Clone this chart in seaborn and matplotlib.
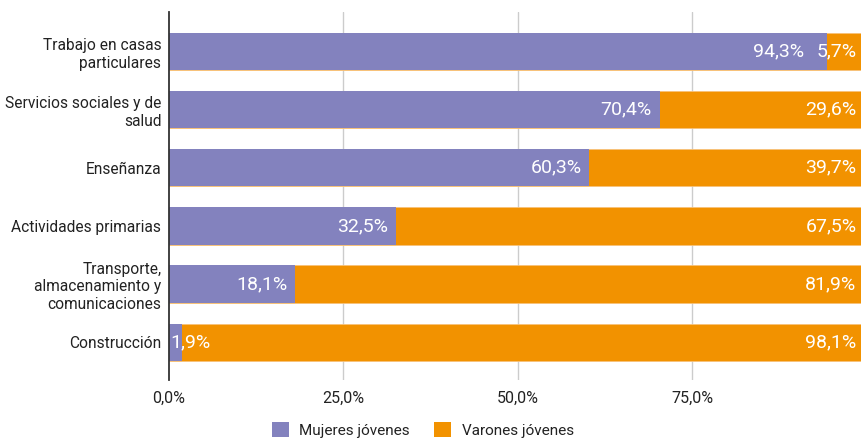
import matplotlib
matplotlib.use("Agg")
import matplotlib.pyplot as plt
import seaborn as sns
import pandas as pd
from matplotlib.patches import Patch

categories = ["Trabajo en casas\nparticulares", "Servicios sociales y de\nsalud", "Enseñanza",
              "Actividades primarias", "Transporte,\nalmacenamiento y\ncomunicaciones", "Construcción"]
mujeres = [94.3, 70.4, 60.3, 32.5, 18.1, 1.9]
varones = [5.7, 29.6, 39.7, 67.5, 81.9, 98.1]
xticks = [0, 25, 50, 75]
xticklabels = ["0,0%", "25,0%", "50,0%", "75,0%"]
series_names = ["Mujeres jóvenes", "Varones jóvenes"]

PURPLE = "#8382BE"
ORANGE = "#F29200"

sns.set_theme(style="white")
plt.rcParams["font.family"] = ["Roboto", "DejaVu Sans"]

W, H = 862, 438
fig = plt.figure(figsize=(W / 100, H / 100), dpi=100)
ax = fig.add_axes([169 / W, 1 - 380 / H, 1 - 169 / W, (380 - 12) / H])

df = pd.DataFrame({"cat": categories, "m": mujeres, "v": varones})
df["total"] = df["m"] + df["v"]

sns.barplot(data=df, x="total", y="cat", color=ORANGE, orient="h", width=0.64,
            saturation=1, ax=ax, zorder=2, edgecolor="#F7C27A", linewidth=0.6)
sns.barplot(data=df, x="m", y="cat", color=PURPLE, orient="h", width=0.64,
            saturation=1, ax=ax, zorder=3, edgecolor="none", linewidth=0)

xmax = (W - 169) / ((692 - 169) / 75)
ax.set_xlim(0, xmax)
ax.set_ylim(5.65, -0.68)
ax.set_xticks(xticks)
ax.set_xticklabels(xticklabels, fontsize=11.5, color="#222222")
ax.tick_params(axis="x", length=0, pad=8)
ax.tick_params(axis="y", length=0, pad=5.5)
for lab in ax.get_yticklabels():
    lab.set_fontsize(11.2)
    lab.set_color("#222222")
    lab.set_linespacing(1.22)
    lab.set_multialignment("right")
ax.set_xlabel("")
ax.set_ylabel("")
for s in ["top", "right", "bottom"]:
    ax.spines[s].set_visible(False)
ax.spines["left"].set_color("#333333")
ax.spines["left"].set_linewidth(1.3)
ax.spines["left"].set_zorder(5)
for xt in xticks[1:]:
    ax.axvline(xt, color="#CCCCCC", lw=1, zorder=1)

fig.canvas.draw()
renderer = fig.canvas.get_renderer()
px_per_unit = (W - 169) / xmax
fs = 14
for i, (m, v) in enumerate(zip(mujeres, varones)):
    # orange label: right-aligned at visible right edge
    vt = ax.annotate(f"{v:.1f}%".replace(".", ","), xy=(xmax, i), xytext=(-4, 0),
                     textcoords="offset points", ha="right", va="center",
                     color="white", fontsize=fs, zorder=6)
    mtxt = f"{m:.1f}%".replace(".", ",")
    t = ax.text(0, 0, mtxt, fontsize=fs)
    wpx = t.get_window_extent(renderer).width
    t.remove()
    if wpx + 8 > m * px_per_unit:
        ax.annotate(mtxt, xy=(0, i), xytext=(1, 0), textcoords="offset points",
                    ha="left", va="center", color="white", fontsize=fs, zorder=6)
    else:
        vb = vt.get_window_extent(renderer)
        seg_end_px = ax.transData.transform((m, i))[0]
        right_px = min(seg_end_px - 8, vb.x0 - 12)
        off = (right_px - seg_end_px) * 72 / 100
        ax.annotate(mtxt, xy=(m, i), xytext=(off, 0), textcoords="offset points",
                    ha="right", va="center", color="white", fontsize=fs, zorder=6)

handles = [Patch(facecolor=PURPLE, edgecolor="none"), Patch(facecolor=ORANGE, edgecolor="none")]
fig.legend(handles, series_names, loc="center", bbox_to_anchor=(423 / W, 1 - 430 / H),
           ncol=2, frameon=False, fontsize=11, handlelength=1.1, handleheight=1.1,
           handletextpad=0.7, columnspacing=1.6, labelcolor="#222222")

fig.savefig("out.png", dpi=100)
